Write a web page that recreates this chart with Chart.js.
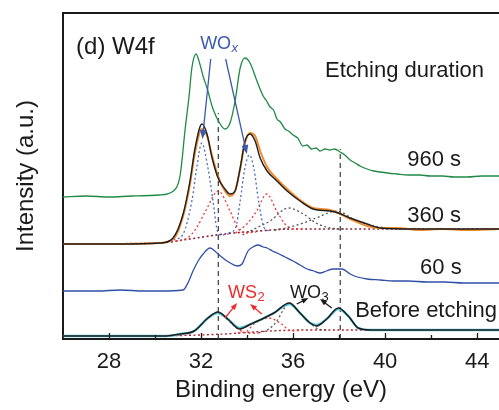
<!DOCTYPE html>
<html>
<head>
<meta charset="utf-8">
<script src="https://cdn.jsdelivr.net/npm/chart.js@4.4.0/dist/chart.umd.min.js"></script>
<style>
  html, body { margin: 0; padding: 0; background: #fff; }
  #wrap { width: 499px; height: 410px; position: relative; }
</style>
</head>
<body>
<div id="wrap"><canvas id="xps"></canvas></div>
<script>
// W4f spectra, binding energy (eV) vs stacked intensity (a.u.)
var xTicks = [28, 32, 36, 40, 44];
var xMinorTicks = [30, 34, 38, 42];

var green960 = [[26.0,142],[27.0,143],[28.0,142],[29.0,143],[30.2,144],[30.8,148],[31.1,165],[31.3,208],[31.48,243],[31.6,271],[31.78,285],[31.96,274],[32.1,262],[32.26,251],[32.52,230],[32.83,215],[33.04,210],[33.26,216],[33.48,238],[33.7,271],[33.91,281],[34.13,276],[34.43,258],[34.7,243],[34.85,238],[35.0,232],[35.15,229],[35.3,220],[35.45,217],[35.65,210],[35.8,208],[36.0,204],[36.2,201],[36.43,193],[36.6,194],[36.8,190],[37.0,191],[37.17,188],[37.4,190],[37.6,189],[37.8,190],[38.04,187],[38.25,184],[38.48,179],[38.7,176],[38.91,173],[39.22,170],[39.5,168],[39.78,167],[40.1,166],[40.52,165],[41.0,164],[41.5,164],[41.96,163],[42.5,163],[43.0,162],[43.57,162],[44.2,163],[44.95,163]];

var orange360 = [[26.0,95],[28.5,95],[30.2,96],[30.8,100],[31.22,123],[31.52,155],[31.74,187],[32.04,210],[32.26,203],[32.48,183],[32.74,163],[33.04,148],[33.26,143],[33.48,148],[33.7,170],[33.91,196],[34.13,206],[34.35,203],[34.57,188],[34.87,172],[35.3,160],[35.74,150],[36.3,139],[36.87,131],[37.2,130],[37.6,129],[37.96,126],[38.48,120],[39.22,113],[39.78,111],[40.5,111],[41.5,109],[42.5,110],[43.5,109],[44.95,110]];
var fit360 = [[26.0,95],[28.5,95],[30.22,96],[30.78,101],[31.22,125],[31.52,158],[31.74,191],[32.04,215],[32.26,205],[32.48,181],[32.74,161],[33.04,150],[33.26,145],[33.48,148],[33.7,171],[33.91,198],[34.13,205],[34.35,198],[34.57,181],[34.87,168],[35.3,158],[35.74,148],[36.3,138],[36.87,130],[37.6,128],[37.96,126],[38.48,121],[39.22,115],[39.78,111],[41.2,110],[44.95,110]];
var bg360 = [[26.0,95],[30.2,96],[31.5,100],[33.0,105],[34.5,108],[36.0,110],[44.95,110]];
var wox1 = [[30.8,99],[31.22,105],[31.6,138],[31.81,171],[32.03,196],[32.3,171],[32.52,138],[32.68,111],[32.83,104],[33.2,105]];
var wox2 = [[33.2,106],[33.5,111],[33.7,138],[33.9,170],[34.1,184],[34.3,170],[34.5,138],[34.75,111],[35.0,108]];
var ws2a = [[30.9,98],[31.4,101],[31.8,111],[32.2,128],[32.75,148],[33.26,128],[33.6,111],[33.95,106],[34.4,107]];
var ws2b = [[33.5,106],[33.99,115],[34.42,128],[34.86,145],[35.29,128],[35.65,115],[36.0,110],[36.4,110]];
var wo3a = [[33.8,104],[34.4,111],[35.0,118],[35.8,131],[36.45,125],[37.0,116],[37.6,111],[38.2,110]];
var wo3b = [[35.2,109],[35.7,111],[36.45,116],[37.0,121],[37.9,128],[38.75,118],[39.5,113],[40.2,111],[41.0,110]];

var blue60 = [[26.0,48],[27.5,48],[28.5,49],[29.5,48],[30.22,48],[31.22,49],[31.45,57],[31.65,68],[31.9,79],[32.09,85],[32.39,91],[32.55,89],[32.74,85],[32.95,81],[33.13,78],[33.35,75],[33.57,73],[33.78,75],[34.04,88],[34.25,92],[34.48,94],[34.7,92],[34.87,91],[35.1,88],[35.3,86],[35.65,82],[36.0,78],[36.3,74],[36.61,70],[36.9,68],[37.17,66],[37.45,68],[37.74,70],[38.13,70],[38.48,65],[38.8,62],[39.22,60],[39.8,59],[40.35,58],[41.0,58],[41.83,57],[42.6,57],[43.4,56],[44.95,56]];

var cyanBefore = [[26.0,3],[30.5,3],[31.1,5],[31.7,8],[32.3,21],[32.73,26],[33.16,20],[33.67,11],[34.17,15],[34.74,21],[35.17,26],[35.84,35],[36.3,26],[36.74,16],[37.03,14],[37.46,20],[37.97,30],[38.4,23],[38.83,11],[39.4,9],[41.0,9],[44.95,9]];
var fitBefore = [[26.0,3],[30.5,3],[31.1,5],[31.7,8],[32.3,21],[32.73,27],[33.16,20],[33.67,10],[34.17,15],[34.74,21],[35.17,26],[35.84,36],[36.3,26],[36.74,16],[37.03,13],[37.46,20],[37.97,31],[38.4,23],[38.83,11],[39.4,9],[44.95,9]];
var bgBefore = [[26.0,3],[31.0,3.5],[33.0,5],[35.0,8],[36.5,9],[44.95,9]];
var ws2BeforeA = [[31.0,3.5],[31.7,8],[32.3,21],[32.73,27],[33.16,19],[33.6,10],[34.0,6],[34.5,6]];
var ws2BeforeB = [[33.6,6],[34.0,8],[34.3,15],[34.95,21],[35.5,15],[35.9,8],[36.3,8.5]];
var wo3BeforeA = [[34.5,6],[34.95,10],[35.3,18],[35.6,30],[35.84,36],[36.3,26],[36.74,16],[37.1,10],[37.5,9]];

var refLines = [32.75, 38.05];
var refTops = [226, 190];

function pts(arr) {
  return arr.map(function(p) { return {x: p[0], y: p[1]}; });
}

function line(arr, color, width, dash) {
  return {
    data: pts(arr),
    borderColor: color,
    borderWidth: width,
    borderDash: dash || [],
    pointRadius: 0,
    fill: false,
    cubicInterpolationMode: 'monotone'
  };
}

var DOT = [2, 2.5];
var datasets = [
  line(fitBefore, '#1e1e1e', 1.5),
  line(fit360, '#1e1e1e', 1.4),
  line(cyanBefore, '#52c4d6', 2.4),
  line(orange360, '#f08a2a', 2),
  line(green960, '#1f8a45', 1.3),
  line(blue60, '#2f4ea8', 1.3),
  line(wox1, '#4a68c0', 1.3, DOT),
  line(wox2, '#4a68c0', 1.3, DOT),
  line(ws2a, '#ee3a3a', 1.3, DOT),
  line(ws2b, '#ee3a3a', 1.3, DOT),
  line(wo3a, '#555555', 1.3, DOT),
  line(wo3b, '#555555', 1.3, DOT),
  line(bg360, '#8a2035', 1.6, DOT),
  line(ws2BeforeA, '#ee3a3a', 1.3, DOT),
  line(ws2BeforeB, '#ee3a3a', 1.3, DOT),
  line(wo3BeforeA, '#555555', 1.3, DOT),
  line(bgBefore, '#b02030', 1.4, DOT)
];
refLines.forEach(function(e, i) {
  var d = line([[e, 0], [e, refTops[i]]], '#3a3a3a', 1.2, [5, 4]);
  d.cubicInterpolationMode = 'default';
  datasets.push(d);
});

var FONT = '"Liberation Sans", Arial, Helvetica, sans-serif';
var INK = '#1a1a1a';

// free text on the plot, placed in data units
var labels = [
  {t: '(d) W4f', e: 26.57, v: 285, size: 24, color: INK},
  {t: 'Etching duration', e: 37.39, v: 262, size: 22, color: INK},
  {t: '960 s', e: 40.96, v: 173, size: 22, color: INK},
  {t: '360 s', e: 40.96, v: 117, size: 22, color: INK},
  {t: '60 s', e: 41.52, v: 65, size: 22, color: INK},
  {t: 'Before etching', e: 38.7, v: 22, size: 22, color: INK},
  {t: 'WO', sub: 'x', italic: true, e: 31.96, v: 290, size: 18, color: '#3a5ab0'},
  {t: 'WS', sub: '2', e: 33.17, v: 41, size: 18, color: '#ee2a2a'},
  {t: 'WO', sub: '3', e: 35.87, v: 41, size: 18, color: INK}
];

var arrows = [
  {from: [32.42, 280], to: [32.06, 200], color: '#3a5ab0', head: 9},
  {from: [33.07, 280], to: [33.99, 185], color: '#3a5ab0', head: 9},
  {from: [33.04, 21], to: [33.57, 36], color: '#ee2a2a', head: 7},
  {from: [34.64, 25], to: [34.13, 35], color: '#ee2a2a', head: 7},
  {from: [36.16, 35], to: [36.67, 41], color: INK, head: 7},
  {from: [37.68, 31], to: [37.17, 40], color: INK, head: 7}
];

var framePlugin = {
  id: 'frame',
  afterDraw: function(chart) {
    var ctx = chart.ctx, a = chart.chartArea, xs = chart.scales.x;
    ctx.save();
    ctx.strokeStyle = INK;
    ctx.lineWidth = 2;
    ctx.beginPath();
    ctx.moveTo(a.left - 1, a.top);
    ctx.lineTo(a.right, a.top);
    ctx.stroke();
    ctx.lineWidth = 1.3;
    xTicks.forEach(function(v) {
      var px = Math.round(xs.getPixelForValue(v)) + 0.5;
      ctx.beginPath(); ctx.moveTo(px, a.bottom); ctx.lineTo(px, a.bottom - 6); ctx.stroke();
    });
    xMinorTicks.forEach(function(v) {
      var px = Math.round(xs.getPixelForValue(v)) + 0.5;
      ctx.beginPath(); ctx.moveTo(px, a.bottom); ctx.lineTo(px, a.bottom - 4); ctx.stroke();
    });
    ctx.restore();
  }
};

var notesPlugin = {
  id: 'notes',
  afterDatasetsDraw: function(chart) {
    var ctx = chart.ctx, xs = chart.scales.x, ys = chart.scales.y;
    ctx.save();
    arrows.forEach(function(a) {
      var x0 = xs.getPixelForValue(a.from[0]), y0 = ys.getPixelForValue(a.from[1]);
      var x1 = xs.getPixelForValue(a.to[0]), y1 = ys.getPixelForValue(a.to[1]);
      var ang = Math.atan2(y1 - y0, x1 - x0), h = a.head, w = h * 0.38;
      ctx.strokeStyle = a.color;
      ctx.fillStyle = a.color;
      ctx.lineWidth = 1.3;
      ctx.beginPath();
      ctx.moveTo(x0, y0);
      ctx.lineTo(x1 - Math.cos(ang) * h * 0.8, y1 - Math.sin(ang) * h * 0.8);
      ctx.stroke();
      ctx.beginPath();
      ctx.moveTo(x1, y1);
      ctx.lineTo(x1 - Math.cos(ang) * h - Math.sin(ang) * w, y1 - Math.sin(ang) * h + Math.cos(ang) * w);
      ctx.lineTo(x1 - Math.cos(ang) * h + Math.sin(ang) * w, y1 - Math.sin(ang) * h - Math.cos(ang) * w);
      ctx.closePath();
      ctx.fill();
    });
    ctx.textBaseline = 'alphabetic';
    ctx.textAlign = 'left';
    labels.forEach(function(l) {
      var px = xs.getPixelForValue(l.e), py = ys.getPixelForValue(l.v);
      ctx.fillStyle = l.color;
      ctx.font = l.size + 'px ' + FONT;
      ctx.fillText(l.t, px, py);
      if (l.sub) {
        var w = ctx.measureText(l.t).width;
        ctx.font = (l.italic ? 'italic ' : '') + Math.round(l.size * 0.72) + 'px ' + FONT;
        ctx.fillText(l.sub, px + w + 0.5, py + 3);
      }
    });
    ctx.restore();
  }
};

new Chart(document.getElementById('xps'), {
  type: 'line',
  data: { datasets: datasets },
  options: {
    responsive: true,
    maintainAspectRatio: false,
    animation: false,
    devicePixelRatio: 1,
    layout: { padding: { top: 13, right: 0, left: 0, bottom: 0 } },
    plugins: { legend: { display: false }, tooltip: { enabled: false } },
    scales: {
      x: {
        type: 'linear',
        min: 26,
        max: 44.95,
        grid: { display: false },
        border: { display: true, color: INK, width: 2 },
        afterBuildTicks: function(s) { s.ticks = xTicks.map(function(v) { return {value: v}; }); },
        ticks: { font: { family: FONT, size: 22 }, color: INK, padding: 2, maxRotation: 0, autoSkip: false },
        title: { display: true, text: 'Binding energy (eV)', font: { family: FONT, size: 24 }, color: INK, padding: { top: 0, bottom: 5 } },
        afterFit: function(s) { s.height = 71; }
      },
      y: {
        min: 0,
        max: 326,
        grid: { display: false },
        border: { display: true, color: INK, width: 2 },
        ticks: { display: false },
        title: { display: true, text: 'Intensity (a.u.)', font: { family: FONT, size: 24 }, color: INK, padding: { top: 12, bottom: 0 } },
        afterFit: function(s) { s.width = 63; }
      }
    }
  },
  plugins: [framePlugin, notesPlugin]
});
</script>
</body>
</html>
